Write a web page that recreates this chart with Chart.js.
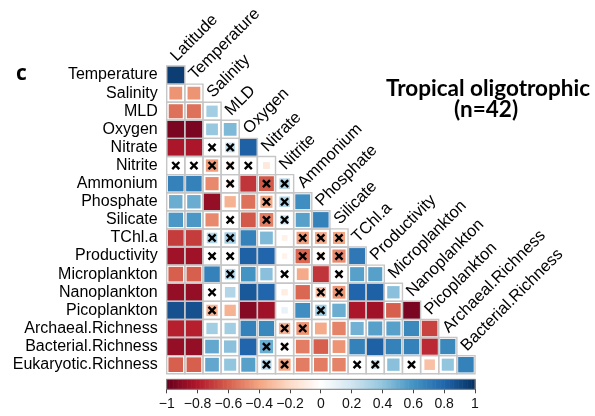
<!DOCTYPE html>
<html>
<head>
<meta charset="utf-8">
<script src="https://cdn.jsdelivr.net/npm/chart.js@4"></script>
<style>
  html, body { margin: 0; padding: 0; background: #fff; }
  canvas { display: block; }
</style>
</head>
<body>
<canvas id="corr" width="595" height="416"></canvas>
<script>
// Variables of the correlation matrix (lower triangle, no diagonal)
const variables = ['Latitude', 'Temperature', 'Salinity', 'MLD', 'Oxygen', 'Nitrate', 'Nitrite',
  'Ammonium', 'Phosphate', 'Silicate', 'TChl.a', 'Productivity', 'Microplankton', 'Nanoplankton',
  'Picoplankton', 'Archaeal.Richness', 'Bacterial.Richness', 'Eukaryotic.Richness'];
const rowLabels = variables.slice(1);
const colLabels = variables.slice(0, variables.length - 1);

// Pearson r, one row per row label, columns in colLabels order
const correlations = [
  [0.95],
  [-0.45, -0.45],
  [-0.55, -0.55, 0.35],
  [-0.95, -0.95, 0.38, 0.45],
  [-0.82, -0.82, 0.02, 0.25, 0.82],
  [0.02, 0.02, -0.42, -0.15, 0.02, -0.12],
  [0.68, 0.68, -0.48, -0.15, -0.72, -0.62, 0.3],
  [0.5, 0.5, -0.88, -0.35, -0.55, -0.4, 0.3, 0.62],
  [0.58, 0.58, -0.48, 0.03, -0.62, -0.52, 0.22, 0.55, 0.68],
  [-0.7, -0.7, 0.3, 0.35, 0.68, 0.45, -0.08, -0.42, -0.38, -0.4],
  [-0.85, -0.85, 0.02, -0.03, 0.82, 0.8, -0.07, -0.58, -0.15, -0.48, 0.72],
  [-0.6, -0.6, 0.68, 0.3, 0.6, 0.42, 0.02, -0.38, -0.72, -0.1, 0.55, 0.55],
  [-0.88, -0.88, 0.05, 0.3, 0.85, 0.8, -0.1, -0.58, -0.3, -0.45, 0.8, 0.82, 0.42],
  [0.88, 0.88, -0.35, -0.35, -0.92, -0.85, 0.1, 0.62, 0.35, 0.5, -0.82, -0.85, -0.6, -0.95],
  [-0.78, -0.78, 0.35, 0.35, 0.68, 0.65, -0.35, -0.45, -0.38, -0.5, 0.48, 0.55, 0.55, 0.65, -0.68],
  [-0.88, -0.88, 0.52, 0.42, 0.8, 0.5, -0.12, -0.52, -0.6, -0.45, 0.68, 0.82, 0.68, 0.68, -0.75, 0.65],
  [-0.6, -0.6, 0.52, 0.4, 0.55, 0.28, -0.4, -0.52, -0.52, -0.5, 0.05, 0.22, 0.42, 0.05, -0.3, 0.4, 0.68]
];

// Column indices (per row) of correlations that are not significant
const notSignificant = [
  [], [], [], [], [2, 3], [0, 1, 2, 3, 4], [3, 5, 6], [5, 6], [3, 5, 6],
  [2, 3, 7, 8, 9], [2, 3, 7, 8, 9], [3, 6, 9], [2, 8, 9], [2, 8], [6, 7], [5, 6], [5, 6, 10, 11, 13]
];

const colorbarTicks = [-1, -0.8, -0.6, -0.4, -0.2, 0, 0.2, 0.4, 0.6, 0.8, 1];

// Diverging red-blue palette, from r = -1 to r = +1
const palette = ['#67001F', '#B2182B', '#D6604D', '#F4A582', '#FDDBC7', '#FFFFFF',
  '#D1E5F0', '#92C5DE', '#4393C3', '#2166AC', '#053061'];

function hexToRgb(h) {
  return [parseInt(h.slice(1, 3), 16), parseInt(h.slice(3, 5), 16), parseInt(h.slice(5, 7), 16)];
}
function colorFor(v) {
  const t = (Math.max(-1, Math.min(1, v)) + 1) / 2 * (palette.length - 1);
  const i = Math.min(Math.floor(t), palette.length - 2);
  const f = t - i;
  const a = hexToRgb(palette[i]), b = hexToRgb(palette[i + 1]);
  const c = a.map((ai, k) => Math.round(ai + (b[k] - ai) * f));
  return `rgb(${c[0]},${c[1]},${c[2]})`;
}

const cells = [];
correlations.forEach((row, r) => row.forEach((v, c) => cells.push({ x: c, y: r, v })));
const marks = [];
notSignificant.forEach((cols, r) => cols.forEach(c => marks.push({ x: c, y: r })));

// Colour bar sits below the matrix, in row units of the y scale
const colorbarTop = 16.81;
const colorbarBottom = 17.36;

function cellPx(chart) {
  const x = chart.scales.x;
  return Math.abs(x.getPixelForValue(1) - x.getPixelForValue(0));
}

const LABEL_FAMILY = '"Liberation Sans", Arial, sans-serif';

const decorations = {
  id: 'decorations',
  beforeDatasetsDraw(chart) {
    const { ctx, scales: { y, cb } } = chart;
    const y0 = y.getPixelForValue(colorbarTop);
    const y1 = y.getPixelForValue(colorbarBottom);
    const steps = 240;
    ctx.save();
    for (let k = 0; k < steps; k++) {
      const v0 = -1 + 2 * k / steps, v1 = -1 + 2 * (k + 1) / steps;
      const xa = cb.getPixelForValue(v0), xb = cb.getPixelForValue(v1);
      ctx.fillStyle = colorFor((v0 + v1) / 2);
      ctx.fillRect(xa, y0, xb - xa + 0.6, y1 - y0);
    }
    ctx.strokeStyle = '#7a7a7a';
    ctx.lineWidth = 1;
    const xl = cb.getPixelForValue(-1), xr = cb.getPixelForValue(1);
    ctx.strokeRect(xl, y0, xr - xl, y1 - y0);
    ctx.restore();
  },
  afterDraw(chart) {
    const { ctx, scales: { x, y } } = chart;
    ctx.save();
    ctx.fillStyle = '#000';
    ctx.font = '16.5px ' + LABEL_FAMILY;
    ctx.textAlign = 'left';
    ctx.textBaseline = 'alphabetic';
    colLabels.forEach((name, j) => {
      const px = x.getPixelForValue(j) + 1;
      const py = y.getPixelForValue(j - 0.5) - 4;
      ctx.save();
      ctx.translate(px, py);
      ctx.rotate(-Math.PI / 4);
      ctx.fillText(name, 0, 0);
      ctx.restore();
    });

    ctx.font = 'bold 21px "Open Sans", Arial, sans-serif';
    ctx.fillText('c', 16, 80);

    ctx.textAlign = 'center';
    ctx.font = 'bold 22.5px Lato, "Open Sans", sans-serif';
    ctx.fillText('Tropical oligotrophic', 488, 96);
    ctx.fillText('(n=42)', 486, 117);
    ctx.restore();
  }
};

new Chart(document.getElementById('corr'), {
  type: 'scatter',
  data: {
    datasets: [
      {
        label: 'not significant',
        data: marks,
        xAxisID: 'x', yAxisID: 'y',
        pointStyle: 'crossRot',
        pointRadius: 5,
        pointBorderColor: '#000',
        pointBorderWidth: 2.4,
        pointBackgroundColor: '#000',
        clip: false,
        order: 0
      },
      {
        label: 'cell border',
        data: cells,
        xAxisID: 'x', yAxisID: 'y',
        pointStyle: 'rect',
        pointRadius: ctx => cellPx(ctx.chart) / Math.SQRT2,
        pointBackgroundColor: 'rgba(0,0,0,0)',
        pointBorderColor: '#c6c6c6',
        pointBorderWidth: 1.4,
        clip: false,
        order: 1
      },
      {
        label: 'correlation',
        data: cells,
        xAxisID: 'x', yAxisID: 'y',
        pointStyle: 'rect',
        pointRadius: ctx => {
          const v = ctx.raw ? ctx.raw.v : 0;
          return (Math.sqrt(Math.abs(v)) * cellPx(ctx.chart) + 0.6) / Math.SQRT2;
        },
        pointBackgroundColor: ctx => colorFor(ctx.raw ? ctx.raw.v : 0),
        pointBorderWidth: 0,
        clip: false,
        order: 2
      }
    ]
  },
  options: {
    responsive: false,
    animation: false,
    devicePixelRatio: 1,
    events: [],
    layout: { padding: { left: 0, top: 66, right: 120, bottom: 0 } },
    plugins: { legend: { display: false }, tooltip: { enabled: false } },
    scales: {
      x: {
        type: 'linear', min: -0.5, max: colLabels.length - 0.5,
        display: false
      },
      y: {
        type: 'linear', reverse: true, position: 'left',
        min: -0.5, max: colorbarBottom,
        grid: { display: false, drawTicks: false },
        border: { display: false },
        afterBuildTicks: axis => { axis.ticks = rowLabels.map((_, i) => ({ value: i })); },
        afterFit: scale => { scale.width = 166.7; },
        ticks: {
          autoSkip: false,
          padding: 9,
          color: '#000',
          font: { family: LABEL_FAMILY, size: 16 },
          callback: v => rowLabels[v]
        }
      },
      cb: {
        type: 'linear', axis: 'x', position: 'bottom',
        min: -1, max: 1,
        grid: { drawOnChartArea: false, drawTicks: true, tickLength: 4, color: '#444', lineWidth: 1 },
        border: { display: false },
        afterBuildTicks: axis => { axis.ticks = colorbarTicks.map(v => ({ value: v })); },
        afterFit: scale => { scale.height = 416 - 389.3; },
        ticks: {
          autoSkip: false,
          maxRotation: 0,
          padding: 2,
          color: '#111',
          font: { family: LABEL_FAMILY, size: 14 },
          callback: v => (v < 0 ? '\u2212' : '') + String(Math.round(Math.abs(v) * 10) / 10)
        }
      }
    }
  },
  plugins: [decorations]
});
</script>
</body>
</html>
